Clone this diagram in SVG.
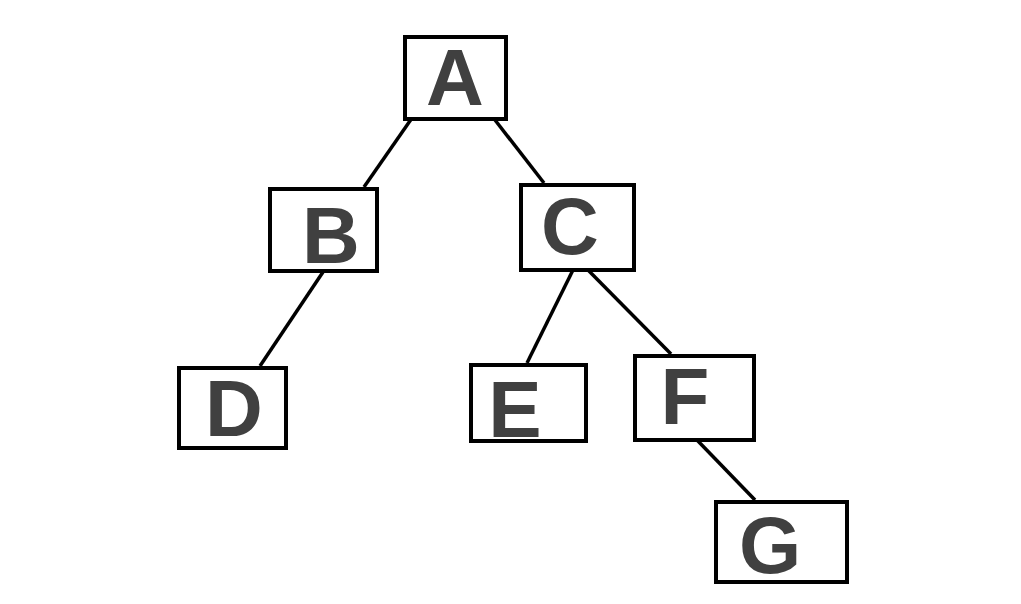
<svg xmlns="http://www.w3.org/2000/svg" width="1021" height="604" viewBox="0 0 1021 604">
<style>
.box{fill:#fff;stroke:#000;stroke-width:4}
.lbl{font-family:"Liberation Sans",Arial,sans-serif;font-weight:bold;font-size:80px;fill:#404040;text-anchor:middle}
.edge{stroke:#000;stroke-width:3.5;fill:none}
</style>
<rect width="1021" height="604" fill="#fff"/>
<g id="connectors">
<line class="edge" x1="412" y1="118" x2="364" y2="187"/>
<line class="edge" x1="495" y1="120" x2="544" y2="183"/>
<line class="edge" x1="323" y1="272" x2="260" y2="366"/>
<line class="edge" x1="573" y1="270" x2="527" y2="363"/>
<line class="edge" x1="588" y1="270" x2="671" y2="354"/>
<line class="edge" x1="697" y1="440" x2="755" y2="500"/>
</g>
<g id="A"><rect class="box" x="405" y="37" width="101" height="82"/><text class="lbl" x="455" y="105">A</text></g>
<g id="B"><rect class="box" x="270" y="189" width="107" height="82"/><text class="lbl" x="331" y="263">B</text></g>
<g id="C"><rect class="box" x="521" y="185" width="113" height="85"/><text class="lbl" x="570" y="254">C</text></g>
<g id="D"><rect class="box" x="179" y="368" width="107" height="80"/><text class="lbl" x="234" y="436">D</text></g>
<g id="E"><rect class="box" x="471" y="365" width="115" height="76"/><text class="lbl" x="515" y="437">E</text></g>
<g id="F"><rect class="box" x="635" y="356" width="119" height="84"/><text class="lbl" x="685" y="424">F</text></g>
<g id="G"><rect class="box" x="716" y="502" width="131" height="80"/><text class="lbl" x="770" y="573">G</text></g>
</svg>
